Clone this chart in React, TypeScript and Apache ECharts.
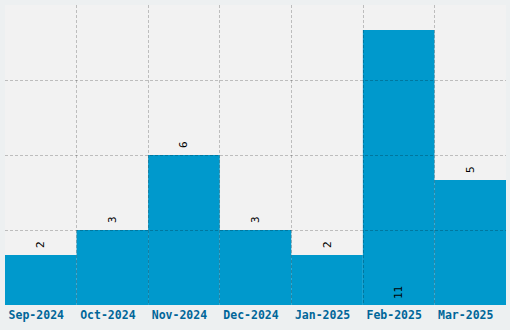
import React, { useEffect, useRef } from "react";
import * as echarts from "echarts";

const categories = ["Sep-2024", "Oct-2024", "Nov-2024", "Dec-2024", "Jan-2025", "Feb-2025", "Mar-2025"];
const values = [2, 3, 6, 3, 2, 11, 5];
const insideLabelIndex = [5];

export default function App() {
  const ref = useRef<HTMLDivElement>(null);
  useEffect(() => {
    if (!ref.current) return;
    const chart = echarts.init(ref.current, null, { renderer: "svg" });
    const data = values.map((v, i) =>
      insideLabelIndex.includes(i)
        ? { value: v, label: { position: "insideBottom", distance: 6 } }
        : { value: v }
    );
    chart.setOption({
      animation: false,
      backgroundColor: "#edf0f1",
      grid: {
        left: 5,
        right: 4,
        top: 5,
        bottom: 25,
        show: true,
        backgroundColor: "#f2f2f2",
        borderWidth: 0,
      },
      xAxis: {
        type: "category",
        data: categories,
        z: 5,
        axisLine: { show: false },
        axisTick: { show: false },
        axisLabel: {
          color: "#006699",
          fontFamily: "DejaVu Sans Mono",
          fontWeight: "bold",
          fontSize: 11.5,
          margin: 4,
          interval: 0,
          padding: [0, 9, 0, 0],
        },
        splitLine: {
          show: true,
          showMinLine: false,
          showMaxLine: false,
          interval: 0,
          lineStyle: { color: "rgba(0,0,0,0.22)", type: [3, 2], width: 1 },
        },
      },
      yAxis: {
        type: "value",
        min: 0,
        max: 12,
        interval: 3,
        z: 5,
        axisLine: { show: false },
        axisTick: { show: false },
        axisLabel: { show: false },
        splitLine: {
          show: true,
          showMinLine: false,
          showMaxLine: false,
          lineStyle: { color: "rgba(0,0,0,0.22)", type: [3, 2], width: 1 },
        },
      },
      series: [
        {
          type: "bar",
          data,
          barWidth: "100%",
          barCategoryGap: 0,
          itemStyle: { color: "#0099cc" },
          label: {
            show: true,
            position: "top",
            rotate: 90,
            align: "left",
            verticalAlign: "middle",
            distance: 7,
            color: "#000",
            fontFamily: "DejaVu Sans Mono",
            fontSize: 11,
          },
        },
      ],
    });
    return () => chart.dispose();
  }, []);
  return (
    <div
      ref={ref}
      style={{ position: "fixed", left: 0, top: 0, width: 510, height: 330 }}
    />
  );
}
